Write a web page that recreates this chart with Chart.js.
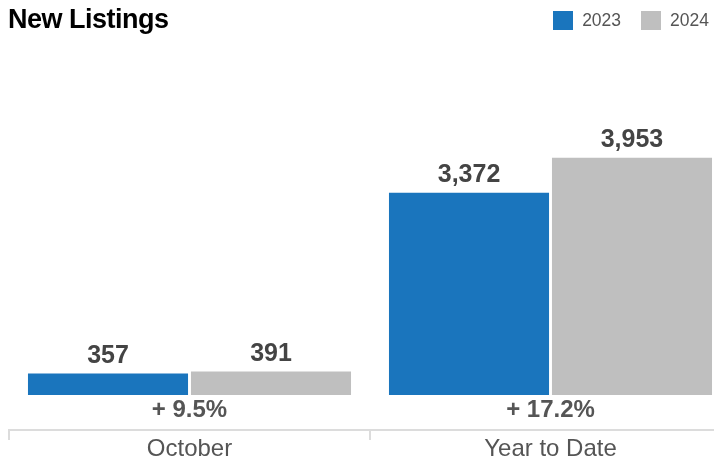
<!DOCTYPE html>
<html>
<head>
<meta charset="utf-8">
<script src="https://cdn.jsdelivr.net/npm/chart.js@4.4.1/dist/chart.umd.min.js"></script>
<style>
  html, body { margin: 0; padding: 0; background: #fff; overflow: hidden; }
  body { width: 714px; height: 463px; position: relative; font-family: "Liberation Sans", Arial, sans-serif; }
  #wrap { position: absolute; left: 0; top: 0; width: 738px; height: 463px; }
  #title { position: absolute; left: 8px; top: 6px; font-size: 27px; line-height: 27px; font-weight: bold; color: #000; letter-spacing: -0.5px; }
  #legend { position: absolute; right: 5px; top: 10px; display: flex; align-items: center; font-size: 17.5px; line-height: 20px; color: #555; }
  #legend .item { display: flex; align-items: center; margin-left: 20px; }
  #legend .box { width: 20px; height: 19px; margin-right: 9px; }
</style>
</head>
<body>
<div id="wrap"><canvas id="chart" width="738" height="463"></canvas></div>
<div id="title">New Listings</div>
<div id="legend"></div>
<script>
const categories = ["October", "Year to Date"];
const seriesNames = ["2023", "2024"];
const values2023 = [357, 3372];
const values2024 = [391, 3953];
const changeLabels = ["+ 9.5%", "+ 17.2%"];
const colors = ["#1a75bd", "#bfbfbf"];

// legend
const legend = document.getElementById("legend");
seriesNames.forEach((name, i) => {
  const item = document.createElement("div");
  item.className = "item";
  item.innerHTML = '<span class="box" style="background:' + colors[i] + '"></span><span>' + name + "</span>";
  legend.appendChild(item);
});

// value labels above the bars
const valueLabels = {
  id: "valueLabels",
  afterDatasetsDraw(chart) {
    const ctx = chart.ctx;
    ctx.save();
    ctx.font = "bold 25px 'Liberation Sans', Arial, sans-serif";
    ctx.fillStyle = "#444";
    ctx.textAlign = "center";
    ctx.textBaseline = "alphabetic";
    chart.data.datasets.forEach((ds, i) => {
      chart.getDatasetMeta(i).data.forEach((bar, j) => {
        ctx.fillText(ds.data[j].toLocaleString("en-US"), bar.x, bar.y - 10.5);
      });
    });
    ctx.restore();
  }
};

new Chart(document.getElementById("chart"), {
  type: "bar",
  data: {
    labels: categories,
    datasets: [
      { label: seriesNames[0], data: values2023, backgroundColor: colors[0], categoryPercentage: 0.903, barPercentage: 0.982 },
      { label: seriesNames[1], data: values2024, backgroundColor: colors[1], categoryPercentage: 0.903, barPercentage: 0.982 }
    ]
  },
  options: {
    responsive: false,
    animation: false,
    layout: { padding: { top: 59, left: 9, right: 7, bottom: 0 } },
    plugins: {
      legend: { display: false },
      tooltip: { enabled: false }
    },
    scales: {
      y: { display: false, min: 0, max: 5600 },
      x: {
        position: "bottom",
        grid: { display: false, drawTicks: false },
        border: { display: false },
        ticks: {
          padding: 1,
          color: "#555",
          font: { family: "'Liberation Sans', Arial, sans-serif", size: 24, weight: "bold" },
          callback: (v, i) => changeLabels[i]
        },
        afterFit: (s) => { s.height = 35; }
      },
      x2: {
        type: "category",
        position: "bottom",
        labels: categories,
        offset: true,
        grid: { offset: true, drawOnChartArea: false, tickLength: 10, color: "#dcdcdc", lineWidth: 2 },
        border: { display: true, color: "#dcdcdc", width: 2 },
        ticks: {
          padding: -5,
          color: "#555",
          font: { family: "'Liberation Sans', Arial, sans-serif", size: 24 }
        },
        afterFit: (s) => { s.height = 33; }
      }
    }
  },
  plugins: [valueLabels]
});
</script>
</body>
</html>
